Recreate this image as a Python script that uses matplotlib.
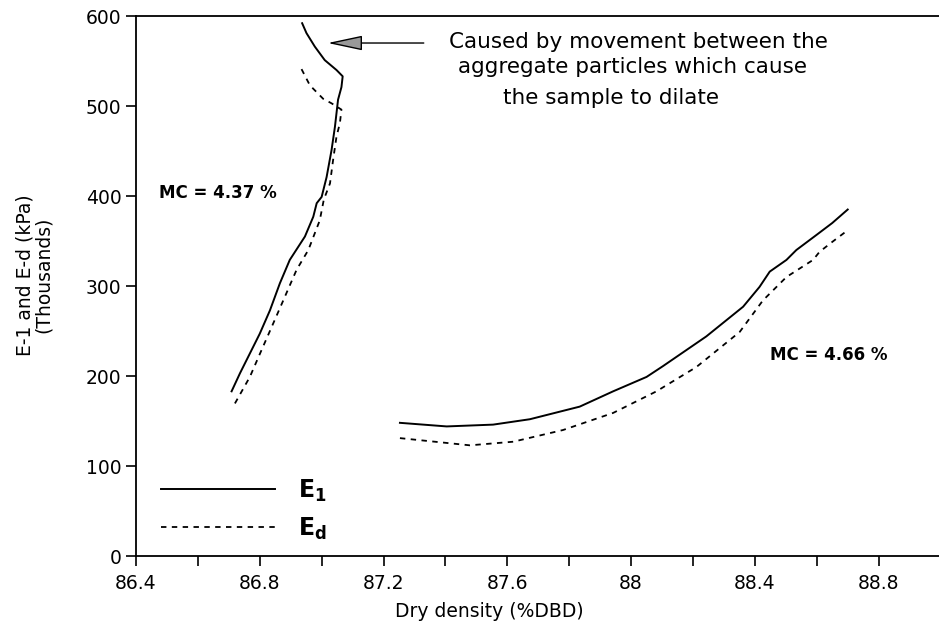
import numpy as np
import matplotlib
matplotlib.use('Agg')
import matplotlib.pyplot as plt
from matplotlib.ticker import MultipleLocator, FuncFormatter

# ---- data ----
# MC = 4.37 % (left curves)
e1_left_x = [86.937, 86.951, 86.978, 87.010, 87.048, 87.068, 87.064, 87.053, 87.043,
             87.032, 87.016, 87.000, 86.984, 86.973, 86.946, 86.897, 86.865, 86.833,
             86.800, 86.768, 86.736, 86.709]
e1_left_y = [592, 581, 566, 551, 540, 533, 521, 507, 477,
             451, 421, 399, 392, 377, 355, 329, 303, 273,
             247, 225, 203, 183]
ed_left_x = [86.935, 86.962, 87.005, 87.032, 87.064, 87.059, 87.048, 87.037, 87.027,
             87.007, 86.994, 86.957, 86.919, 86.876, 86.843, 86.806, 86.768, 86.714]
ed_left_y = [541, 523, 508, 503, 496, 481, 466, 440, 414,
             396, 373, 340, 318, 284, 258, 229, 199, 166]

# MC = 4.66 % (right curves)
e1_right_x = [87.253, 87.404, 87.554, 87.673, 87.834, 87.942, 88.050, 88.103, 88.243,
              88.362, 88.415, 88.448, 88.502, 88.534, 88.60, 88.65, 88.70]
e1_right_y = [148, 144, 146, 152, 166, 183, 199, 211, 244,
              277, 299, 316, 329, 340, 357, 370, 385]
ed_right_x = [87.253, 87.479, 87.619, 87.780, 87.942, 88.082, 88.211, 88.351, 88.426,
              88.502, 88.588, 88.609, 88.65, 88.70]
ed_right_y = [131, 123, 127, 140, 159, 183, 210, 249, 284,
              310, 329, 338, 349, 362]

note_lines = ["Caused by movement between the",
              "aggregate particles which cause",
              "the sample to dilate"]

fig = plt.figure(figsize=(9.39, 6.33), dpi=100)
ax = fig.add_axes([0.1448, 0.1216, 0.8552, 0.8531])

solid = dict(color='black', lw=1.4)
dotted = dict(color='black', lw=1.3, linestyle=(0, (3, 3)))

l1, = ax.plot(e1_left_x, e1_left_y, **solid)
l2, = ax.plot(ed_left_x, ed_left_y, **dotted)
ax.plot(e1_right_x, e1_right_y, **solid)
ax.plot(ed_right_x, ed_right_y, **dotted)

ax.set_xlim(86.4, 88.995)
ax.set_ylim(0, 600)

ax.xaxis.set_major_locator(MultipleLocator(0.4))
ax.xaxis.set_minor_locator(MultipleLocator(0.2))
ax.xaxis.set_major_formatter(FuncFormatter(lambda v, p: '%g' % round(v, 1)))
ax.yaxis.set_major_locator(MultipleLocator(100))
ax.tick_params(axis='both', which='both', direction='out', length=7, width=1.2,
               labelsize=13.5, top=False, right=False)
ax.tick_params(axis='x', pad=6)

ax.spines['right'].set_visible(False)
for s in ['left', 'bottom', 'top']:
    ax.spines[s].set_linewidth(1.3)

ax.set_xlabel('Dry density (%DBD)', fontsize=13.5)
ax.xaxis.set_label_coords(0.44, -0.085)
ax.set_ylabel('E-1 and E-d (kPa)\n(Thousands)', fontsize=13.5, linespacing=0.95)
ax.yaxis.set_label_coords(-0.104, 0.52)

ax.text(86.474, 403, 'MC = 4.37 %', fontsize=12, fontweight='bold', va='center')
ax.text(88.448, 223, 'MC = 4.66 %', fontsize=12, fontweight='bold', va='center')

# arrow with triangle head
ax.annotate('', xy=(87.02, 570), xytext=(87.33, 570),
            arrowprops=dict(arrowstyle='-|>,head_length=1.55,head_width=0.33',
                            fc='0.6', ec='black', lw=1.0, mutation_scale=14,
                            shrinkA=0, shrinkB=0))
ax.text(88.025, 571, note_lines[0], fontsize=15.5, ha='center', va='center')
ax.text(88.005, 543, note_lines[1], fontsize=15.5, ha='center', va='center')
ax.text(87.934, 509, note_lines[2], fontsize=15.5, ha='center', va='center')

leg = ax.legend([l1, l2], [r'$\mathbf{E}_{\mathbf{1}}$', r'$\mathbf{E}_{\mathbf{d}}$'],
                loc='upper left', bbox_to_anchor=(0.02, 0.163), frameon=False,
                fontsize=17, handlelength=4.8, handletextpad=1.0, labelspacing=0.5,
                borderaxespad=0)

fig.savefig('out.png', dpi=100)
